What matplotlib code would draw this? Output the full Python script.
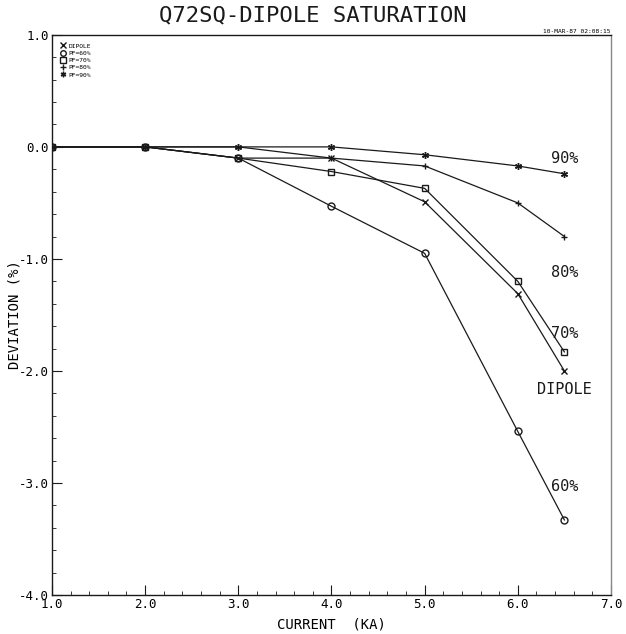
import matplotlib.pyplot as plt
from matplotlib.ticker import MultipleLocator

# Fuente tipo plotter
plt.rcParams['font.family'] = ['DejaVu Sans Mono']

# Datos
current = [1.0, 2.0, 3.0, 4.0, 5.0, 6.0, 6.5]
dipole = [0.0, 0.0, -0.10, -0.10, -0.49, -1.31, -2.00]
pf60 = [0.0, 0.0, -0.10, -0.53, -0.95, -2.54, -3.33]
pf70 = [0.0, 0.0, -0.10, -0.22, -0.37, -1.20, -1.83]
pf80 = [0.0, 0.0, 0.00, -0.10, -0.17, -0.50, -0.80]
pf90 = [0.0, 0.0, 0.00, 0.00, -0.07, -0.17, -0.24]

series_labels = ['DIPOLE', 'PF=60%', 'PF=70%', 'PF=80%', 'PF=90%']
end_labels = ['DIPOLE', '60%', '70%', '80%', '90%']
end_pos = [(6.5, -2.17), (6.5, -3.03), (6.5, -1.67), (6.5, -1.12), (6.5, -0.10)]

markers = ['x', 'o', 's', '+', (6, 2, 0)]

fig = plt.figure(figsize=(6.26, 6.34), dpi=100)
ax = fig.add_axes([0.083, 0.0615, 0.893, 0.8835])

series = [dipole, pf60, pf70, pf80, pf90]
for vals, mk, lab in zip(series, markers, series_labels):
    ax.plot(current, vals, color='#1a1a1a', lw=0.9, marker=mk, ms=5,
            mfc='none', mec='#1a1a1a', mew=1.0, label=lab)

for txt, (x, y) in zip(end_labels, end_pos):
    ax.text(x, y, txt, fontsize=11, ha='center', va='center', color='#1a1a1a')

ax.set_xlim(1.0, 7.0)
ax.set_ylim(-4.0, 1.0)
ax.xaxis.set_major_locator(MultipleLocator(1.0))
ax.xaxis.set_minor_locator(MultipleLocator(0.2))
ax.yaxis.set_major_locator(MultipleLocator(1.0))
ax.yaxis.set_minor_locator(MultipleLocator(0.2))
ax.xaxis.set_major_formatter(lambda v, p: f'{v:.1f}')
ax.yaxis.set_major_formatter(lambda v, p: f'{v:.1f}')
ax.tick_params(which='both', direction='in', color='#1a1a1a')
ax.tick_params(which='major', length=7, labelsize=9, pad=2)
ax.tick_params(which='minor', length=3)
ax.tick_params(axis='x', which='both', top=False)
ax.tick_params(axis='y', which='both', right=False)
for s in ax.spines.values():
    s.set_linewidth(1.0)
    s.set_color('#1a1a1a')
ax.spines['right'].set_color('#888888')

ax.set_xlabel('CURRENT  (KA)', fontsize=10)
ax.set_ylabel('DEVIATION (%)', fontsize=10)
ax.xaxis.set_label_coords(0.5, -0.04)
ax.yaxis.set_label_coords(-0.055, 0.5)

fig.text(0.5, 0.975, 'Q72SQ-DIPOLE SATURATION', ha='center', va='center',
         fontsize=16, color='#1a1a1a')
fig.text(0.975, 0.951, '10-MAR-87 02:08:15', ha='right', va='center', fontsize=4.5)

ax.legend(loc='upper left', fontsize=4.5, frameon=False, handlelength=0,
          handletextpad=0.8, markerscale=0.8, labelspacing=0.3,
          bbox_to_anchor=(0.01, 0.995))

fig.savefig('out.png', dpi=100)
